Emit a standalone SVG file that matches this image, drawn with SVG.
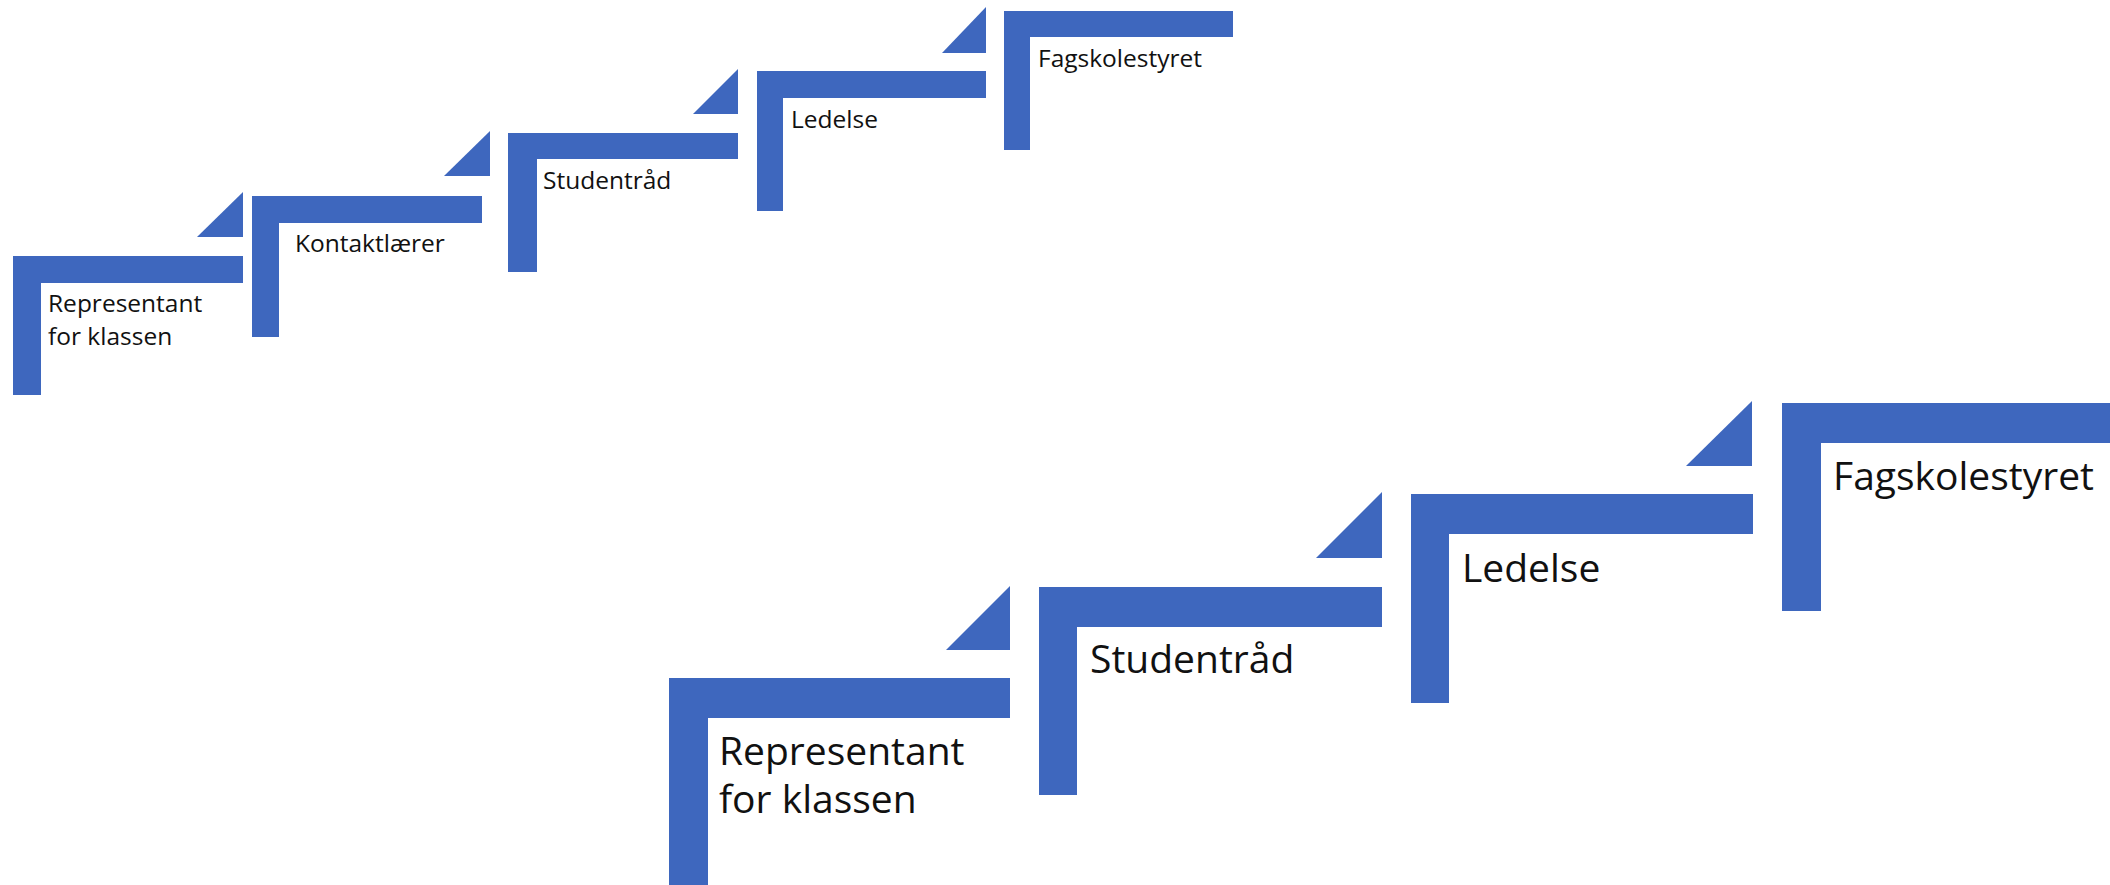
<svg xmlns="http://www.w3.org/2000/svg" width="2110" height="885" viewBox="0 0 2110 885">
<style>
.s{fill:#3E67BE}
.t{font-family:"Open Sans","Noto Sans","Liberation Sans",sans-serif;fill:#111}
.sm{font-size:24.5px}
.lg{font-size:39px}
</style>
<rect width="2110" height="885" fill="#fff"/>
<g id="small-1">
<polygon class="s" points="13,256 243,256 243,283 41,283 41,395 13,395"/>
<polygon class="s" points="243,192 243,237 197,237"/>
<text class="t sm" x="48" y="312">Representant</text>
<text class="t sm" x="48" y="345">for klassen</text>
</g>
<g id="small-2">
<polygon class="s" points="252,196 482,196 482,223 279,223 279,337 252,337"/>
<polygon class="s" points="490,131 490,176 444,176"/>
<text class="t sm" x="295" y="252">Kontaktlærer</text>
</g>
<g id="small-3">
<polygon class="s" points="508,133 738,133 738,159 537,159 537,272 508,272"/>
<polygon class="s" points="738,69 738,114 693,114"/>
<text class="t sm" x="543" y="189">Studentråd</text>
</g>
<g id="small-4">
<polygon class="s" points="757,71 986,71 986,98 783,98 783,211 757,211"/>
<polygon class="s" points="986,7 986,53 942,53"/>
<text class="t sm" x="791" y="128">Ledelse</text>
</g>
<g id="small-5">
<polygon class="s" points="1004,11 1233,11 1233,37 1030,37 1030,150 1004,150"/>
<text class="t sm" x="1038" y="67">Fagskolestyret</text>
</g>
<g id="large-1">
<polygon class="s" points="669,678 1010,678 1010,718 708,718 708,885 669,885"/>
<polygon class="s" points="1010,586 1010,650 946,650"/>
<text class="t lg" x="719" y="765">Representant</text>
<text class="t lg" x="719" y="813">for klassen</text>
</g>
<g id="large-2">
<polygon class="s" points="1039,587 1382,587 1382,627 1077,627 1077,795 1039,795"/>
<polygon class="s" points="1382,492 1382,558 1316,558"/>
<text class="t lg" x="1090" y="673">Studentråd</text>
</g>
<g id="large-3">
<polygon class="s" points="1411,494 1753,494 1753,534 1449,534 1449,703 1411,703"/>
<polygon class="s" points="1752,401 1752,466 1686,466"/>
<text class="t lg" x="1462" y="582">Ledelse</text>
</g>
<g id="large-4">
<polygon class="s" points="1782,403 2110,403 2110,443 1821,443 1821,611 1782,611"/>
<text class="t lg" x="1833" y="490">Fagskolestyret</text>
</g>
<g id="connectors"/>
</svg>
